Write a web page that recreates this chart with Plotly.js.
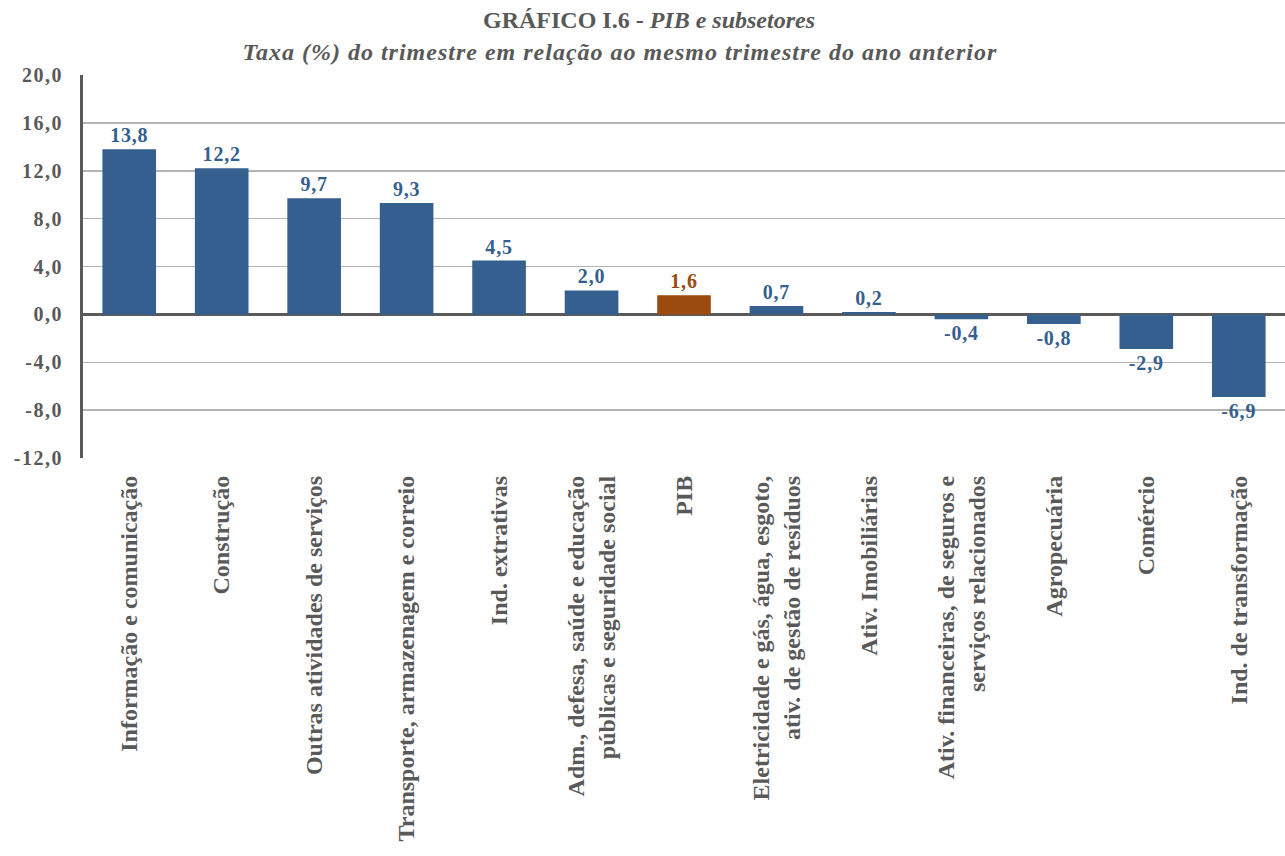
<!DOCTYPE html>
<html>
<head>
<meta charset="utf-8">
<script src="https://cdn.plot.ly/plotly-3.0.1.min.js"></script>
<style>
html,body{margin:0;padding:0;background:#fff;}
#chart{width:1285px;height:856px;}
#chart .ytick text{letter-spacing:1.5px;}
#chart .bars text{letter-spacing:0.8px;}
#chart g.annotation[data-index="1"] text{letter-spacing:1px;}
</style>
</head>
<body>
<div id="chart"></div>
<script>
const categories = [
  "Informação e comunicação",
  "Construção",
  "Outras atividades de serviços",
  "Transporte, armazenagem e correio",
  "Ind. extrativas",
  "Adm., defesa, saúde e educação<br>públicas e seguridade social",
  "PIB",
  "Eletricidade e gás, água, esgoto,<br>ativ. de gestão de resíduos",
  "Ativ. Imobiliárias",
  "Ativ. financeiras, de seguros e<br>serviços relacionados",
  "Agropecuária",
  "Comércio",
  "Ind. de transformação"
];
const values = [13.8, 12.2, 9.7, 9.3, 4.5, 2.0, 1.6, 0.7, 0.2, -0.4, -0.8, -2.9, -6.9];
const tickVals = [-12, -8, -4, 0, 4, 8, 12, 16, 20];
const tickText = ["-12,0", "-8,0", "-4,0", "0,0", "4,0", "8,0", "12,0", "16,0", "20,0"];

const BLUE = "#355f8f";
const BROWN = "#9b4a10";
const colors = categories.map(c => c === "PIB" ? BROWN : BLUE);
const labels = values.map(v => "<b>" + v.toFixed(1).replace(".", ",") + "</b>");
const catText = categories.map(c => "<b>" + c.split("<br>").join("</b><br><b>") + "</b>");

const trace = {
  type: "bar",
  x: categories,
  y: values,
  marker: {color: colors},
  text: labels,
  textposition: "outside",
  textfont: {family: "Liberation Serif", size: 20, color: colors},
  cliponaxis: false,
  hoverinfo: "none"
};

const layout = {
  width: 1285, height: 856,
  margin: {l: 83, r: 0, t: 75, b: 398},
  paper_bgcolor: "#fff", plot_bgcolor: "#fff",
  bargap: 0.42,
  showlegend: false,
  font: {family: "Liberation Serif", color: "#595959"},
  xaxis: {
    type: "category",
    tickangle: -90,
    tickmode: "array",
    tickvals: categories,
    ticktext: catText,
    showgrid: false,
    showline: false,
    ticks: "",
    ticklabelstandoff: 12,
    tickfont: {family: "Liberation Serif", size: 24, color: "#595959"},
    automargin: false
  },
  yaxis: {
    range: [-12, 20],
    tickvals: tickVals,
    ticktext: tickText.map(t => "<b>" + t + "</b>"),
    showgrid: true,
    gridcolor: "#b4b4b4",
    gridwidth: 1.5,
    zeroline: true,
    zerolinecolor: "#5a5a5a",
    zerolinewidth: 2.5,
    showline: true,
    linecolor: "#5a5a5a",
    linewidth: 3,
    ticks: "",
    ticklabelstandoff: 13,
    tickfont: {family: "Liberation Serif", size: 20, color: "#595959"},
    automargin: false
  },
  annotations: [
    {xref: "paper", yref: "paper", x: 0.471, y: 1, yshift: 55, xanchor: "center", yanchor: "middle",
     text: "<b>GRÁFICO I.6 - <i>PIB e subsetores</i></b>", showarrow: false,
     font: {family: "Liberation Serif", size: 24, color: "#595959"}},
    {xref: "paper", yref: "paper", x: 0.447, y: 1, yshift: 23, xanchor: "center", yanchor: "middle",
     text: "<b><i>Taxa (%) do trimestre em relação ao mesmo trimestre do ano anterior</i></b>", showarrow: false,
     font: {family: "Liberation Serif", size: 24, color: "#595959"}}
  ]
};

Plotly.newPlot("chart", [trace], layout, {displayModeBar: false, staticPlot: true});
</script>
</body>
</html>
